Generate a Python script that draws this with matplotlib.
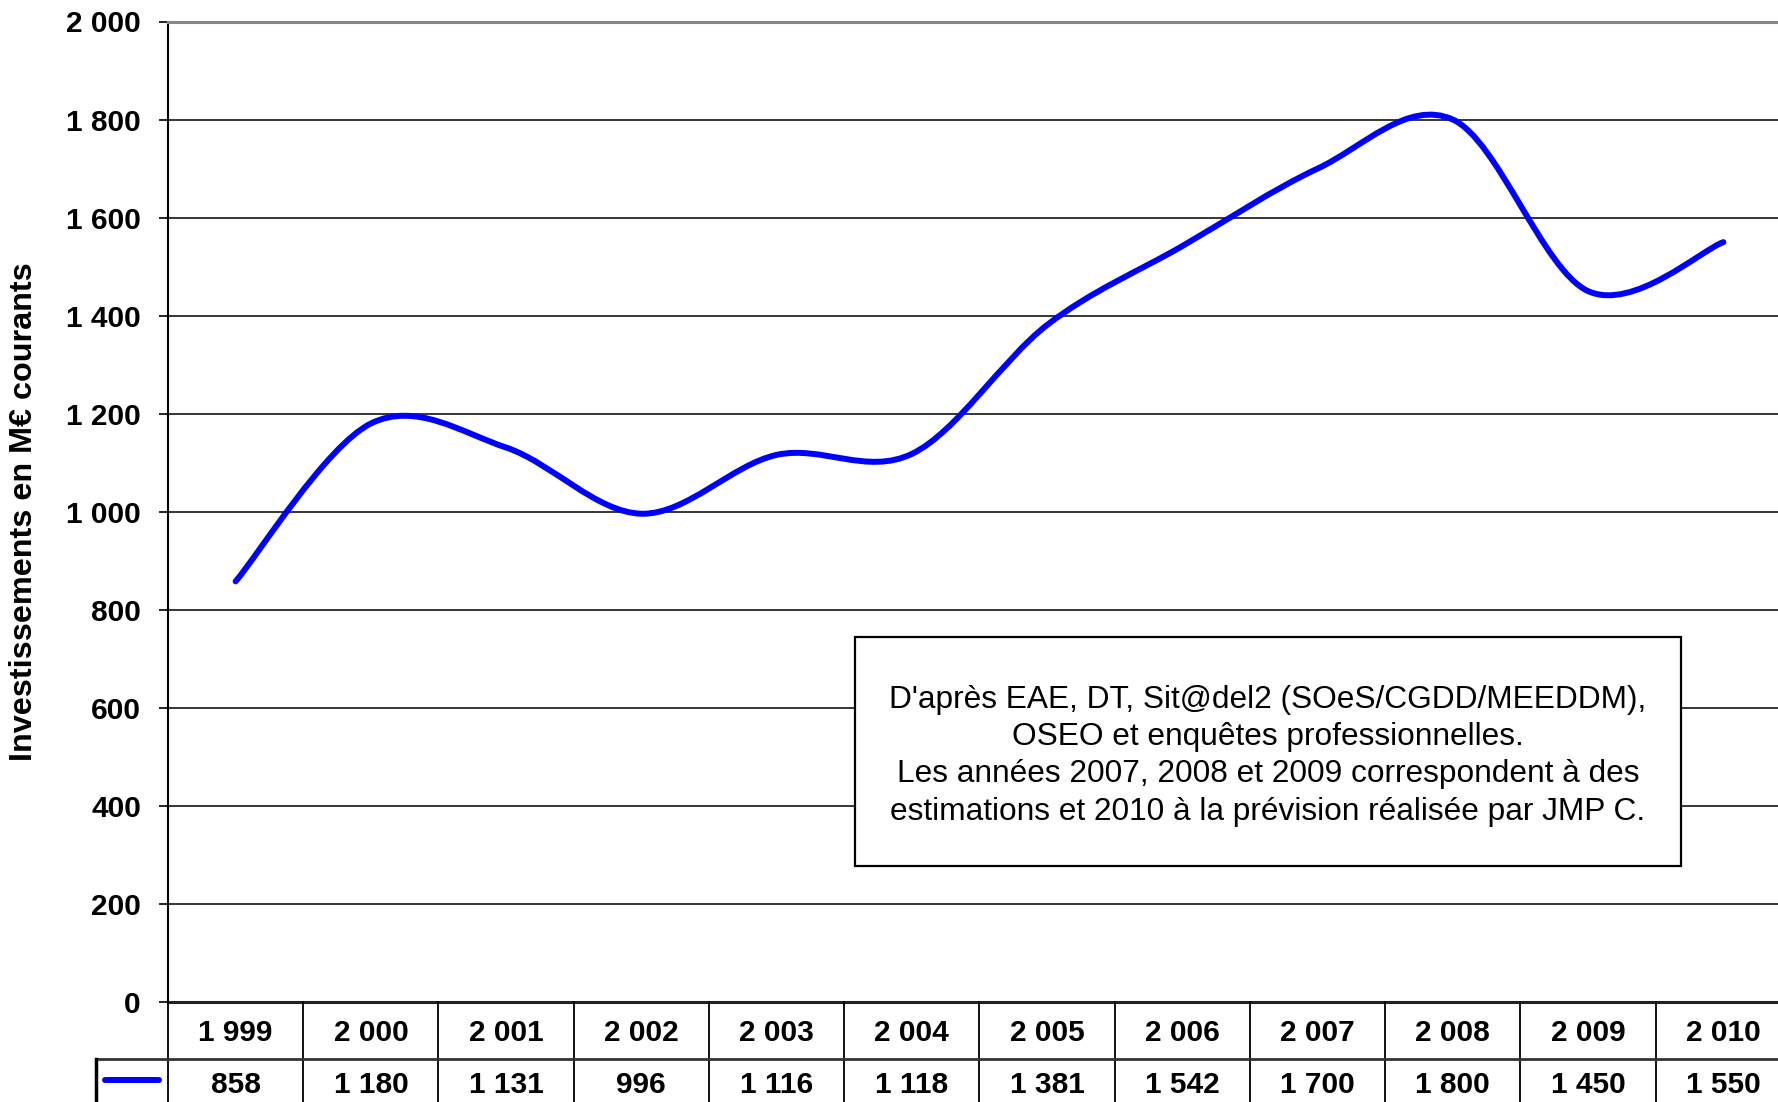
import matplotlib
matplotlib.use("Agg")
import matplotlib.pyplot as plt
from matplotlib.path import Path
from matplotlib.patches import PathPatch, Rectangle

years = [1999, 2000, 2001, 2002, 2003, 2004, 2005, 2006, 2007, 2008, 2009, 2010]
invest = [858, 1180, 1131, 996, 1116, 1118, 1381, 1542, 1700, 1800, 1450, 1550]
yticks = [0, 200, 400, 600, 800, 1000, 1200, 1400, 1600, 1800, 2000]

ylabel = "Investissements en M€ courants"
note = ("D'après EAE, DT, Sit@del2 (SOeS/CGDD/MEEDDM),\n"
        "OSEO et enquêtes professionnelles.\n"
        "Les années 2007, 2008 et 2009 correspondent à des\n"
        "estimations et 2010 à la prévision réalisée par JMP C.")

plt.rcParams['font.family'] = ['Liberation Sans', 'DejaVu Sans']

W, H = 1778, 1102
BLUE = '#0000FF'


def fmt(v):
    return f"{v:,}".replace(",", " ")


def smooth_path(xs, ys):
    # Excel style smoothed line: cubic bezier with catmull-rom tangents
    n = len(xs)
    verts = [(xs[0], ys[0])]
    codes = [Path.MOVETO]
    for i in range(n - 1):
        x0, y0 = xs[max(i - 1, 0)], ys[max(i - 1, 0)]
        x1, y1 = xs[i], ys[i]
        x2, y2 = xs[i + 1], ys[i + 1]
        x3, y3 = xs[min(i + 2, n - 1)], ys[min(i + 2, n - 1)]
        verts += [(x1 + (x2 - x0) / 6, y1 + (y2 - y0) / 6),
                  (x2 - (x3 - x1) / 6, y2 - (y3 - y1) / 6),
                  (x2, y2)]
        codes += [Path.CURVE4] * 3
    return Path(verts, codes)


fig = plt.figure(figsize=(W / 100, H / 100), dpi=100)

# plot area runs a bit past the right edge of the picture (last column is cut)
left, right, top, bottom = 168, 1791, 21.5, 1002
ax = fig.add_axes([left / W, (H - bottom) / H, (right - left) / W, (bottom - top) / H])
xs = list(range(len(years)))
ax.set_xlim(-0.5, len(years) - 0.5)
ax.set_ylim(0, 2000)
step = (right - left) / len(years)

for v in yticks[1:-1]:
    ax.axhline(v, color='black', lw=1.1, zorder=1)

ax.add_patch(PathPatch(smooth_path(xs, invest), facecolor='none', edgecolor=BLUE,
                       lw=4.3, capstyle='round', joinstyle='round', zorder=4))

ax.set_yticks(yticks)
ax.set_yticklabels([fmt(v) for v in yticks], fontsize=21.5, fontweight='bold')
ax.tick_params(axis='y', length=6.5, width=1.2, pad=13)
ax.set_xticks([])
ax.spines['right'].set_visible(False)
ax.spines['top'].set_color('#888888')
ax.spines['top'].set_linewidth(2.2)
ax.spines['left'].set_linewidth(1.5)
ax.spines['bottom'].set_linewidth(2.2)
ax.spines['bottom'].set_color('#222222')
ax.set_ylabel(ylabel, fontsize=23.3, fontweight='bold')
ax.yaxis.set_label_coords(-0.0804 * 1610 / (right - left), 0.5)

# note box (pixel layout converted to data units)
bx0 = -0.5 + (855 - left) / step
bx1 = -0.5 + (1681 - left) / step
ax.add_patch(Rectangle((bx0, 277.4), bx1 - bx0, 744.6 - 277.4, facecolor='white',
                       edgecolor='black', lw=1.6, zorder=3))
ax.text((bx0 + bx1) / 2, 502, note, ha='center', va='center', fontsize=22.75,
        linespacing=1.31, zorder=5)

# data table under the chart
tl = 96
axt = fig.add_axes([tl / W, 0, (right - tl) / W, (H - bottom) / H])
x0 = -0.5 - (left - tl) / step
axt.set_xlim(x0, len(years) - 0.5)
axt.set_ylim(H, bottom)
axt.axis('off')

row1, row2 = 1033, 1085
for i, (yr, v) in enumerate(zip(years, invest)):
    axt.text(i, row1, fmt(yr), ha='center', va='center', fontsize=21.5, fontweight='bold')
    axt.text(i, row2, fmt(v), ha='center', va='center', fontsize=21.5, fontweight='bold')

for k in range(len(years) + 1):
    axt.plot([k - 0.5, k - 0.5], [bottom, H], color='black', lw=1.3, clip_on=False)
axt.plot([x0, len(years) - 0.5], [1058.5, 1058.5], color='#333333', lw=2, clip_on=False)
axt.plot([x0, x0], [1058.5, H], color='black', lw=2.5, clip_on=False)
axt.plot([x0 + 0.07, -0.5 - 0.07], [1079.5, 1079.5], color=BLUE, lw=4.3,
         solid_capstyle='round')

fig.savefig('out.png', dpi=100)
